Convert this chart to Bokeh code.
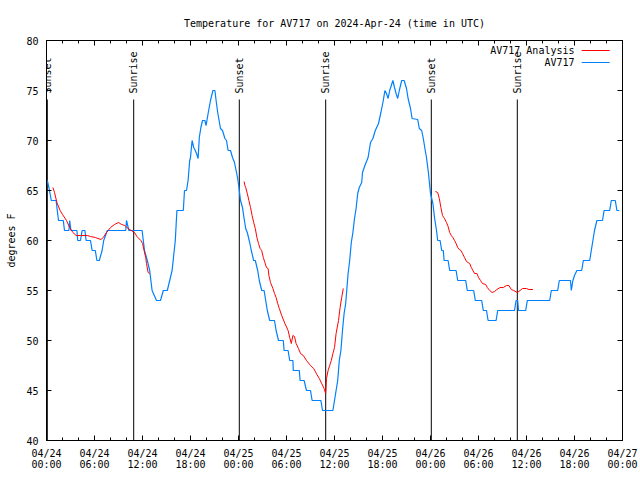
import math
from bokeh.plotting import figure
from bokeh.models import FixedTicker, LinearAxis, Range1d, Label
from bokeh.core.properties import value
from bokeh.embed import file_html
from bokeh.resources import INLINE

FONT = "DejaVu Sans Mono"
NAN = float("nan")

# ---- data (hours since 2024-04-24 00:00 UTC, temperature in degrees F) ----
obs_hours = [0.1, 0.3, 0.6, 1.2, 1.5, 2.1, 2.25, 2.8, 2.9, 3.05, 3.8, 3.9, 4.25, 4.45, 4.8, 4.95,
             5.5, 5.7, 6.1, 6.3, 6.6, 6.95, 7.15, 7.6, 9.9, 10.0, 10.3, 11.95, 12.25, 12.6, 12.9,
             13.2, 13.75, 14.25, 14.6, 15.1, 15.4, 15.7, 16.1, 16.3, 17.1, 17.25, 17.5, 17.7,
             17.9, 18.0, 18.2, 18.4, 18.6, 18.75, 18.95, 19.1, 19.3, 19.5, 19.8, 19.95, 20.2,
             20.5, 20.8, 21.05, 21.2, 21.4, 21.75, 22.0, 22.3, 22.5, 22.7, 23.0, 23.25, 23.5,
             23.7, 23.9, 24.1, 24.25, 24.5, 24.7, 24.9, 25.1, 25.4, 25.6, 25.9, 26.1, 26.4, 26.6,
             26.9, 27.2, 27.4, 27.6, 27.9, 28.5, 28.7, 29.0, 29.6, 29.7, 30.2, 30.4, 30.8, 30.85,
             31.6, 31.7, 32.2, 32.5, 33.0, 33.2, 34.3, 34.5, 35.8, 36.0, 36.2, 36.4, 36.5, 36.6,
             36.8, 37.0, 37.2, 37.4, 37.5, 37.7, 37.9, 38.1, 38.3, 38.5, 38.7, 38.9, 39.1, 39.4,
             39.5, 39.8, 40.2, 40.5, 40.8, 41.1, 41.5, 41.8, 42.1, 42.3, 42.5, 42.7, 42.9, 43.3,
             43.5, 43.7, 43.9, 44.1, 44.4, 44.7, 45.0, 45.2, 45.5, 45.7, 46.4, 46.6, 46.9, 47.1,
             47.3, 47.5, 47.75, 48.0, 48.3, 48.5, 48.75, 48.9, 49.2, 49.4, 49.6, 49.7, 50.2, 50.4,
             51.2, 51.4, 52.4, 52.6, 53.4, 53.6, 54.4, 54.6, 55.0, 55.2, 56.2, 56.4, 58.5, 58.7,
             58.9, 59.0, 59.9, 60.1, 62.9, 63.1, 63.9, 64.1, 65.5, 65.6, 65.8, 66.0, 66.3, 66.9,
             67.1, 67.9, 68.1, 68.3, 68.5, 68.8, 69.5, 69.7, 70.4, 70.6, 71.1, 71.3, 71.6]
obs_temp = [66, 65.3, 64, 64, 62, 62, 61, 61, 62, 61, 61, 60, 60, 61, 61, 60,
            60, 59, 59, 58, 58, 59, 60, 61, 61, 62, 61, 61, 59, 58, 57,
            55, 54, 54, 55, 55, 56, 57, 60, 63, 63, 65, 65, 66,
            68, 68.3, 70, 69.3, 69, 68.7, 68.2, 70.3, 71.3, 72, 72, 71.5, 72.7,
            74, 75, 75, 74, 72.8, 71.2, 71, 70.2, 70, 69, 69, 68.3, 67.8,
            67, 66.2, 65, 64, 63.3, 62.2, 61.2, 60.8, 59.8, 59, 58, 58, 57, 56,
            55, 55, 54, 53, 52, 52, 51, 50, 50, 49, 49, 48, 48, 47,
            47, 46, 46, 45, 45, 44, 44, 43, 43, 44, 45, 46, 47, 48,
            49, 51, 52.7, 53.7, 54.7, 56.7, 58, 59.8, 60.8, 62.2, 63.2, 64.7, 65.3, 65.8,
            66.8, 67.5, 68.3, 69.8, 70.2, 71, 71.7, 72.8, 74, 75, 74.7, 74.2, 75, 76,
            75.3, 74.7, 74.2, 75, 76, 76, 75.2, 74.2, 73.2, 72.2, 72.1, 71.2, 71, 70.2,
            69.2, 68.3, 66.7, 64.7, 63.7, 62.3, 61, 60, 60, 59, 59, 58, 58, 57,
            57, 56, 56, 55, 55, 54, 54, 53, 53, 52, 52, 53, 53, 54,
            54, 53, 53, 54, 54, 55, 55, 56, 56, 55, 56, 56.5, 57, 57,
            58, 58, 59, 60, 61, 62, 62, 63, 63, 64, 64, 63, 63]

ana_hours = [0.8, 1.0, 1.3, 1.7, 2.0, 2.5, 2.9, 3.3, 3.7, 4.25, 5.1, 5.5, 6.1, 6.8, 7.1, 7.5,
             8.0, 8.5, 9.0, 9.4, 9.8, 10.2, 10.6, 11.0, 11.3, 11.8, 12.0, 12.2, 12.4, 12.5,
             12.7, 12.9, NAN,
             24.7, 24.8, 24.9, 25.1, 25.3, 25.5, 25.7, 25.9, 26.1, 26.3, 26.5, 26.7, 26.9, 27.1,
             27.3, 27.5, 27.7, 27.8, 28.0, 28.3, 28.5, 28.7, 28.9, 29.1, 29.4, 29.8, 30.2, 30.4,
             30.6, 30.8, 31.0, 31.2, 31.5, 31.75, 32.1, 32.5, 33.0, 33.4, 33.8, 34.1, 34.4, 34.7,
             34.9, 35.0, 35.2, 35.4, 35.6, 35.8, 36.0, 36.2, 36.5, 36.7, 36.9, 37.1, NAN,
             48.6, 48.9, 49.1, 49.3, 49.5, 49.75, 50.0, 50.2, 50.4, 50.6, 50.8, 51.0, 51.2, 51.4,
             51.6, 51.8, 52.0, 52.25, 52.5, 52.7, 52.9, 53.1, 53.3, 53.5, 53.8, 54.0, 54.25,
             54.5, 54.9, 55.1, 55.4, 55.7, 56.0, 56.3, 56.7, 57.1, 57.5, 57.8, 58.1, 58.4,
             58.85, 59.2, 59.5, 60.0, 60.3, 60.8]
ana_temp = [65.3, 64.8, 63.8, 63, 62.6, 62, 61.3, 60.8, 60.5, 60.5, 60.5, 60.4, 60.3, 60.1, 60.3,
            60.8, 61.3, 61.6, 61.8, 61.6, 61.5, 61.2, 61, 60.8, 60.4, 60, 59.7, 59, 58.3, 57.7,
            56.8, 56.7, NAN,
            65.9, 65.5, 65.3, 64.7, 64, 63.3, 62.5, 61.8, 61.2, 60.3, 59.7, 59.2, 59, 58.3,
            57.8, 57.3, 57.2, 56.5, 55.8, 55.2, 54.7, 54.3, 53.7, 53.2, 52.5, 51.7, 51, 50.3,
            49.7, 50.5, 50.4, 49.7, 49.2, 48.7, 48.5, 48, 47.5, 47.2, 46.6, 46.2, 45.7, 45.2,
            44.7, 46.2, 47, 47.5, 48, 48.7, 49.3, 50.7, 52, 53.3, 54.3, 55.2, NAN,
            64.9, 64.8, 64.2, 63.3, 62.5, 62.2, 61.8, 61.4, 60.8, 60.5, 60.3, 60, 59.7, 59.3,
            59.1, 59, 58.7, 58.3, 57.9, 57.8, 57.7, 57.3, 57, 56.7, 56.7, 56.3, 56,
            55.7, 55.6, 55.3, 55, 54.8, 54.9, 55.1, 55.3, 55.3, 55.5, 55.5, 55.1, 55,
            54.8, 55, 55.2, 55.2, 55.1, 55.1]

event_hours = [0.1, 10.9, 24.1, 34.9, 48.1, 58.85]
event_labels = ["Sunset", "Sunrise", "Sunset", "Sunrise", "Sunset", "Sunrise"]

x_major = [0, 6, 12, 18, 24, 30, 36, 42, 48, 54, 60, 66, 72]
x_minor = list(range(0, 73, 2))
x_labels = ["04/24\n00:00", "04/24\n06:00", "04/24\n12:00", "04/24\n18:00",
            "04/25\n00:00", "04/25\n06:00", "04/25\n12:00", "04/25\n18:00",
            "04/26\n00:00", "04/26\n06:00", "04/26\n12:00", "04/26\n18:00",
            "04/27\n00:00"]
y_major = [40, 45, 50, 55, 60, 65, 70, 75, 80]

series_names = ["AV717 Analysis", "AV717"]
series_colors = ["#ff0000", "#0080ff"]

# ---- figure ----
p = figure(width=640, height=480, output_backend="svg", toolbar_location=None,
           x_range=Range1d(0, 72), y_range=Range1d(40, 80),
           min_border_left=46, min_border_right=18, min_border_top=40, min_border_bottom=40,
           title="Temperature for AV717 on 2024-Apr-24 (time in UTC)")
p.grid.visible = False
p.outline_line_color = "black"
p.outline_line_width = 1
p.background_fill_color = "white"
p.border_fill_color = "white"

p.title.align = "center"
p.title.text_font = FONT
p.title.text_font_size = "10px"
p.title.text_font_style = "normal"
p.title.text_color = "black"
p.title.standoff = 23

xt = FixedTicker(ticks=x_major, minor_ticks=x_minor)
yt = FixedTicker(ticks=y_major, minor_ticks=[])

def style_axis(ax):
    ax.axis_line_color = "black"
    ax.major_tick_in = 5
    ax.major_tick_out = 0
    ax.minor_tick_in = 3
    ax.minor_tick_out = 0
    ax.major_tick_line_color = "black"
    ax.minor_tick_line_color = "black"
    ax.major_label_text_font = FONT
    ax.major_label_text_font_size = "10px"
    ax.major_label_text_color = "black"

xa = p.xaxis[0]
xa.ticker = xt
xa.major_label_overrides = {float(t): lab for t, lab in zip(x_major, x_labels)}
style_axis(xa)
xa.major_label_standoff = 7
xa.major_label_text_line_height = 1.0

ya = p.yaxis[0]
ya.ticker = yt
style_axis(ya)
ya.minor_tick_in = 0
ya.major_label_standoff = 8
ya.axis_label = "degrees F"
ya.axis_label_text_font = FONT
ya.axis_label_text_font_size = "10px"
ya.axis_label_text_font_style = "normal"
ya.axis_label_text_color = "black"
ya.axis_label_standoff = 6

# mirrored tick marks on top and right (no labels)
top = LinearAxis(ticker=xt)
style_axis(top)
top.major_label_overrides = {float(t): "" for t in x_major}
top.major_label_standoff = 0
p.add_layout(top, "above")

right = LinearAxis(ticker=yt)
style_axis(right)
right.minor_tick_in = 0
right.major_label_overrides = {float(t): "" for t in y_major}
right.major_label_standoff = 0
p.add_layout(right, "right")

# sunrise / sunset markers
p.segment(x0=event_hours, x1=event_hours, y0=[40] * len(event_hours), y1=[74.1] * len(event_hours),
          line_color="black", line_width=1)
p.text(x=event_hours, y=[74.7] * len(event_hours), text=event_labels, angle=math.pi / 2,
       text_align="left", text_baseline="middle", text_font=value(FONT),
       text_font_size="10px", text_color="black")

# data lines
p.line(obs_hours, obs_temp, line_color=series_colors[1], line_width=1.2)
p.line(ana_hours, ana_temp, line_color=series_colors[0], line_width=1)

# key (text left of sample line, as in the reference)
for i, (name, col) in enumerate(zip(series_names, series_colors)):
    yk = 79.0 - 1.2 * i
    p.add_layout(Label(x=66.0, y=yk, text=name, text_align="right", text_baseline="middle",
                       text_font=FONT, text_font_size="10px", text_color="black"))
    p.segment(x0=[66.9], x1=[70.4], y0=[yk], y1=[yk], line_color=col, line_width=1)

open("out.html", "w").write(file_html(p, INLINE))
